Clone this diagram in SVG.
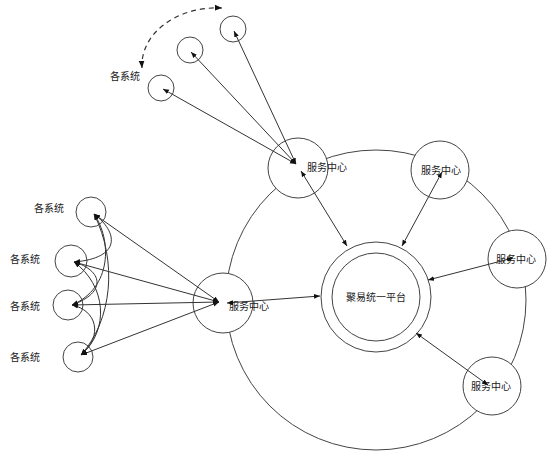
<svg xmlns="http://www.w3.org/2000/svg" width="553" height="460" viewBox="0 0 553 460">
<style>
.c{fill:#fff;stroke:#444;stroke-width:1}
.t{font-family:"Noto Sans CJK SC","Noto Sans",sans-serif;font-size:10px;fill:#222}
.l{fill:none;stroke:#333;stroke-width:1;marker-start:url(#a);marker-end:url(#a)}
.d{fill:none;stroke:#333;stroke-width:1.2;stroke-dasharray:5,4;marker-start:url(#a);marker-end:url(#a)}
</style>
<defs>
<marker id="a" viewBox="0 0 10 10" refX="10" refY="5" markerWidth="6" markerHeight="6" orient="auto-start-reverse"><path d="M0,1 L10,5 L0,9 z" fill="#111"/></marker>
</defs>
<rect width="553" height="460" fill="#fff"/>
<g id="ring"><circle cx="376" cy="300" r="150" fill="none" stroke="#444"/></g>
<g id="platform"><circle class="c" cx="376" cy="297" r="55"/><circle class="c" cx="376" cy="297" r="44"/><text class="t" x="376" y="301" text-anchor="middle">聚易统一平台</text></g>
<g id="sc1"><circle class="c" cx="298" cy="168" r="30"/><text class="t" x="307" y="171">服务中心</text></g>
<g id="sc2"><circle class="c" cx="440" cy="170" r="29"/><text class="t" x="441" y="174" text-anchor="middle">服务中心</text></g>
<g id="sc3"><circle class="c" cx="517" cy="259" r="29"/><text class="t" x="516" y="263" text-anchor="middle">服务中心</text></g>
<g id="sc4"><circle class="c" cx="492" cy="386" r="29"/><text class="t" x="491" y="390" text-anchor="middle">服务中心</text></g>
<g id="sc5"><circle class="c" cx="223" cy="303" r="30"/><text class="t" x="229" y="310">服务中心</text></g>
<g id="ls1"><circle class="c" cx="91" cy="212" r="15"/><text class="t" x="49" y="212" text-anchor="middle">各系统</text></g>
<g id="ls2"><circle class="c" cx="71" cy="261" r="16"/><text class="t" x="25" y="263" text-anchor="middle">各系统</text></g>
<g id="ls3"><circle class="c" cx="68" cy="305" r="15"/><text class="t" x="25" y="310" text-anchor="middle">各系统</text></g>
<g id="ls4"><circle class="c" cx="78" cy="357" r="15"/><text class="t" x="25" y="361" text-anchor="middle">各系统</text></g>
<g id="ts1"><circle class="c" cx="161" cy="88" r="13"/></g>
<g id="ts2"><circle class="c" cx="190" cy="50" r="13"/></g>
<g id="ts3"><circle class="c" cx="233" cy="29" r="13"/></g>
<g id="tlabel"><text class="t" x="125" y="80" text-anchor="middle">各系统</text></g>
<g id="connectors">
<path class="d" d="M142,68 C140,35 175,6 222,8"/>
<line class="l" x1="296" y1="164" x2="163" y2="89"/>
<line class="l" x1="296" y1="164" x2="191" y2="52"/>
<line class="l" x1="296" y1="164" x2="234" y2="31"/>
<line class="l" x1="301" y1="171" x2="347" y2="246"/>
<line class="l" x1="442" y1="172" x2="402" y2="246"/>
<line class="l" x1="513" y1="258" x2="428" y2="280"/>
<line class="l" x1="488" y1="385" x2="416" y2="333"/>
<line class="l" x1="227" y1="303" x2="320" y2="296"/>
<line class="l" x1="219" y1="302" x2="94" y2="214"/>
<line class="l" x1="219" y1="302" x2="74" y2="262"/>
<line class="l" x1="219" y1="302" x2="72" y2="305"/>
<line class="l" x1="219" y1="302" x2="81" y2="355"/>
<path class="l" d="M94,214 C118,232 122,258 74,262"/>
<path class="l" d="M94,214 C112,240 112,288 72,305"/>
<path class="l" d="M94,214 C118,262 112,320 81,355"/>
<path class="l" d="M74,262 C102,270 108,292 72,305"/>
<path class="l" d="M74,262 C106,285 110,330 81,355"/>
<path class="l" d="M72,305 C96,310 104,335 81,355"/>
</g>
</svg>
